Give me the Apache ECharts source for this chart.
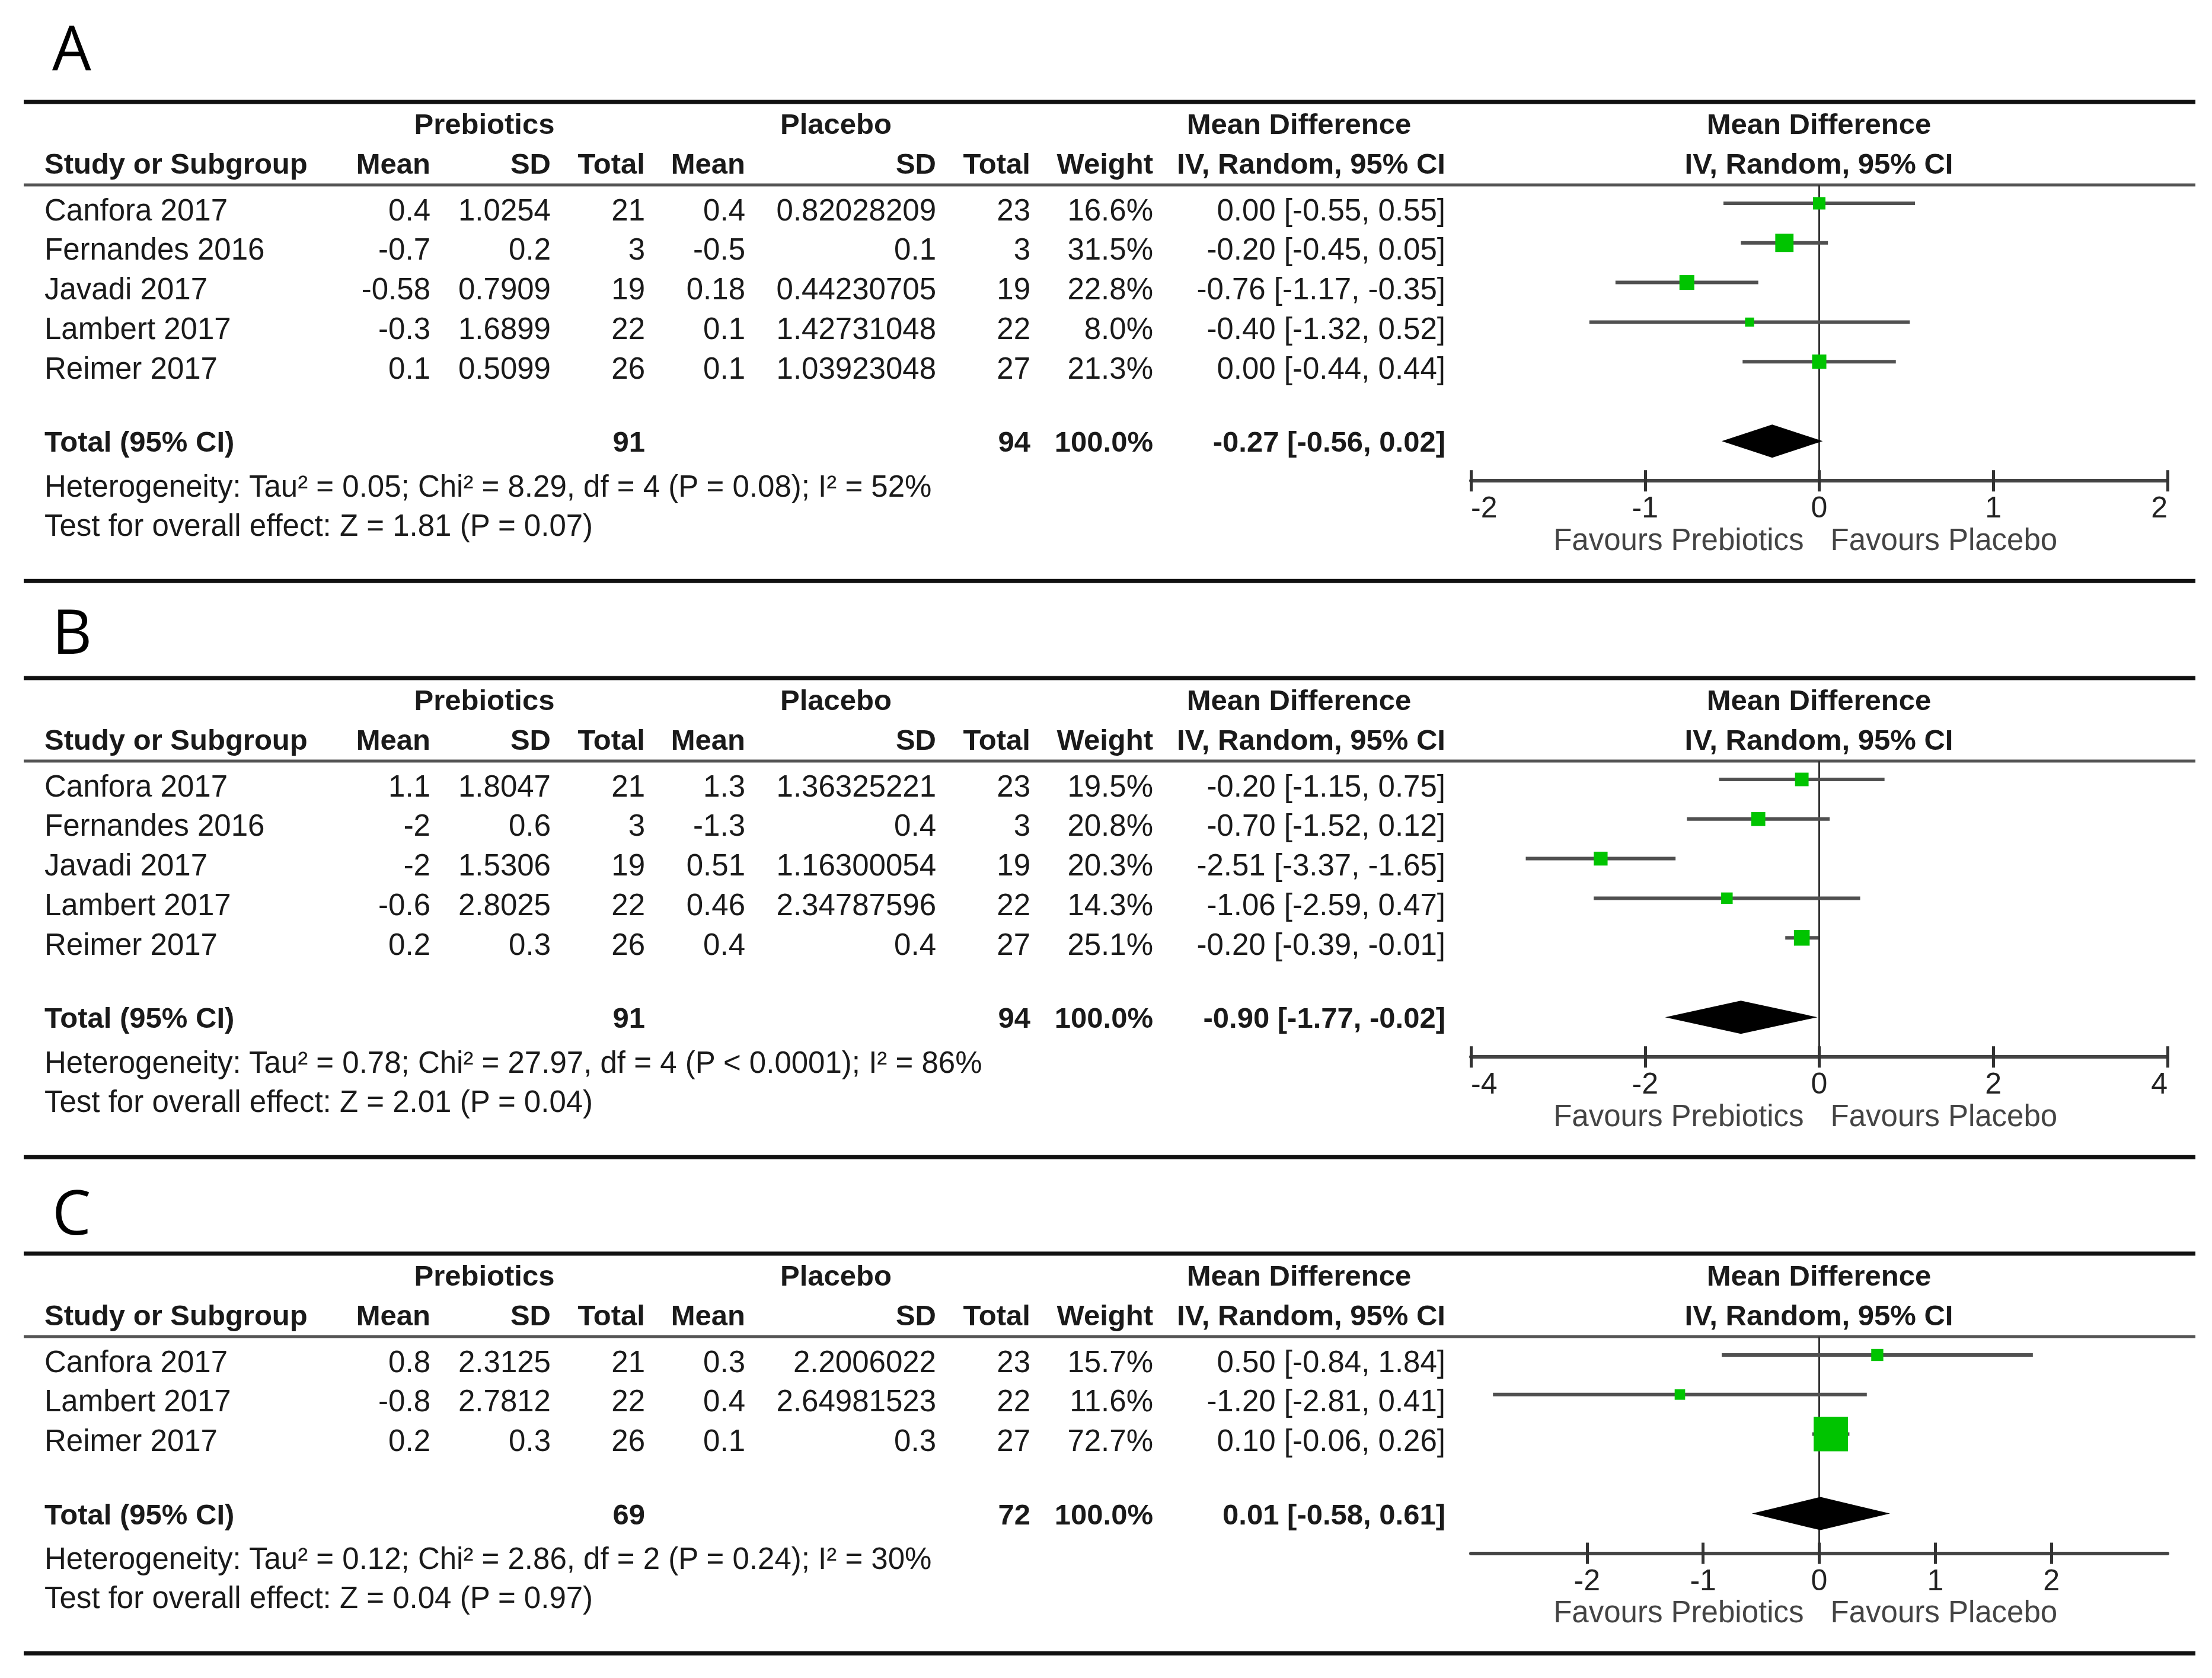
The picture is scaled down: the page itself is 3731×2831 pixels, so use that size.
<!DOCTYPE html>
<html>
<head>
	<meta charset="utf-8">
	<title>Forest plots</title>
	<script src="https://cdn.jsdelivr.net/npm/echarts@6/dist/echarts.min.js"></script>
	<style>
		* { margin: 0; padding: 0 }
		html, body { width: 100%; height: 100%; background: #fff; }
		#main { width: 3731px; height: 2831px; }
	</style>
</head>
<body>
<div id="main"></div>
<script>
	/*-------------------- data --------------------*/
	// A
	var studiesA = ['Canfora 2017', 'Fernandes 2016', 'Javadi 2017', 'Lambert 2017', 'Reimer 2017'];
	var prebMeanA = [0.4, -0.7, -0.58, -0.3, 0.1];
	var prebSdA = [1.0254, 0.2, 0.7909, 1.6899, 0.5099];
	var prebNA = [21, 3, 19, 22, 26];
	var placMeanA = [0.4, -0.5, 0.18, 0.1, 0.1];
	var placSdA = [0.82028209, 0.1, 0.44230705, 1.42731048, 1.03923048];
	var placNA = [23, 3, 19, 22, 27];
	var weightA = [16.6, 31.5, 22.8, 8.0, 21.3];
	var mdA = [0.00, -0.20, -0.76, -0.40, 0.00];
	var loA = [-0.55, -0.45, -1.17, -1.32, -0.44];
	var hiA = [0.55, 0.05, -0.35, 0.52, 0.44];
	var totalA = [91, 94, -0.27, -0.56, 0.02];   // n prebiotics, n placebo, md, lo, hi
	var hetA = 'Heterogeneity: Tau² = 0.05; Chi² = 8.29, df = 4 (P = 0.08); I² = 52%';
	var testA = 'Test for overall effect: Z = 1.81 (P = 0.07)';
	var ticksA = [-2, -1, 0, 1, 2];
	var rangeA = [-2, 2];

	// B
	var studiesB = ['Canfora 2017', 'Fernandes 2016', 'Javadi 2017', 'Lambert 2017', 'Reimer 2017'];
	var prebMeanB = [1.1, -2, -2, -0.6, 0.2];
	var prebSdB = [1.8047, 0.6, 1.5306, 2.8025, 0.3];
	var prebNB = [21, 3, 19, 22, 26];
	var placMeanB = [1.3, -1.3, 0.51, 0.46, 0.4];
	var placSdB = [1.36325221, 0.4, 1.16300054, 2.34787596, 0.4];
	var placNB = [23, 3, 19, 22, 27];
	var weightB = [19.5, 20.8, 20.3, 14.3, 25.1];
	var mdB = [-0.20, -0.70, -2.51, -1.06, -0.20];
	var loB = [-1.15, -1.52, -3.37, -2.59, -0.39];
	var hiB = [0.75, 0.12, -1.65, 0.47, -0.01];
	var totalB = [91, 94, -0.90, -1.77, -0.02];
	var hetB = 'Heterogeneity: Tau² = 0.78; Chi² = 27.97, df = 4 (P < 0.0001); I² = 86%';
	var testB = 'Test for overall effect: Z = 2.01 (P = 0.04)';
	var ticksB = [-4, -2, 0, 2, 4];
	var rangeB = [-4, 4];

	// C
	var studiesC = ['Canfora 2017', 'Lambert 2017', 'Reimer 2017'];
	var prebMeanC = [0.8, -0.8, 0.2];
	var prebSdC = [2.3125, 2.7812, 0.3];
	var prebNC = [21, 22, 26];
	var placMeanC = [0.3, 0.4, 0.1];
	var placSdC = [2.2006022, 2.64981523, 0.3];
	var placNC = [23, 22, 27];
	var weightC = [15.7, 11.6, 72.7];
	var mdC = [0.50, -1.20, 0.10];
	var loC = [-0.84, -2.81, -0.06];
	var hiC = [1.84, 0.41, 0.26];
	var totalC = [69, 72, 0.01, -0.58, 0.61];
	var hetC = 'Heterogeneity: Tau² = 0.12; Chi² = 2.86, df = 2 (P = 0.24); I² = 30%';
	var testC = 'Test for overall effect: Z = 0.04 (P = 0.97)';
	var ticksC = [-2, -1, 0, 1, 2];
	var rangeC = [-3, 3];

	var panels = [
		{ letter: 'A', top: 172, letterY: 78, studies: studiesA, prebMean: prebMeanA, prebSd: prebSdA, prebN: prebNA,
			placMean: placMeanA, placSd: placSdA, placN: placNA, weight: weightA, md: mdA, lo: loA, hi: hiA,
			total: totalA, het: hetA, test: testA, ticks: ticksA, range: rangeA, alignEnds: true },
		{ letter: 'B', top: 1144, letterY: 1062, studies: studiesB, prebMean: prebMeanB, prebSd: prebSdB, prebN: prebNB,
			placMean: placMeanB, placSd: placSdB, placN: placNB, weight: weightB, md: mdB, lo: loB, hi: hiB,
			total: totalB, het: hetB, test: testB, ticks: ticksB, range: rangeB, alignEnds: true },
		{ letter: 'C', top: 2115, letterY: 2042, studies: studiesC, prebMean: prebMeanC, prebSd: prebSdC, prebN: prebNC,
			placMean: placMeanC, placSd: placSdC, placN: placNC, weight: weightC, md: mdC, lo: loC, hi: hiC,
			total: totalC, het: hetC, test: testC, ticks: ticksC, range: rangeC, alignEnds: false }
	];

	/*-------------------- layout --------------------*/
	var FONT = 'Arial, Liberation Sans, sans-serif';
	var FS = 51, FSB = 49;
	var TXT = '#1a1a1a';
	var RULE_L = 40, RULE_R = 3703;
	var PITCH = 66.8;          // row height
	var PLOT_L = 2481, PLOT_W = 1175;
	var DIAMOND_H = 28;
	var GREEN = '#00c400';
	// column anchors
	var COL = {
		study: 75, prebMean: 726, prebSd: 929, prebN: 1088, placMean: 1257, placSd: 1579,
		placN: 1738, weight: 1945, ci: 2438, prebHead: 817, placHead: 1410, mdHead: 2191, plotHead: 3068
	};

	var chart = echarts.init(document.getElementById('main'), null, { renderer: 'svg' });

	function txt(s, x, y, align, bold, color, size) {
		return {
			type: 'text', x: x, y: y, silent: true,
			style: {
				text: s, fill: color || TXT, textAlign: align, textVerticalAlign: 'middle',
				font: (bold ? 'bold ' : '') + (size || (bold ? FSB : FS)) + 'px ' + FONT
			}
		};
	}
	function rule(y, w, c) {
		return { type: 'line', silent: true, shape: { x1: RULE_L, y1: y, x2: RULE_R, y2: y }, style: { stroke: c, lineWidth: w } };
	}
	function ci(md, lo, hi) {
		return md.toFixed(2) + ' [' + lo.toFixed(2) + ', ' + hi.toFixed(2) + ']';
	}

	// square side grows with the study weight
	function boxSize(w) {
		return 10 + 0.66 * w;
	}

	function renderStudy(params, api) {
		var y = api.value(3);
		var a = api.coord([api.value(1), y]);
		var b = api.coord([api.value(2), y]);
		var c = api.coord([api.value(0), y]);
		var s = boxSize(api.value(4));
		return {
			type: 'group',
			children: [
				{ type: 'line', shape: { x1: a[0], y1: a[1], x2: b[0], y2: b[1] }, style: { stroke: '#505050', lineWidth: 6 } },
				{ type: 'rect', shape: { x: c[0] - s / 2, y: c[1] - s / 2, width: s, height: s }, style: { fill: GREEN } }
			]
		};
	}
	function renderDiamond(params, api) {
		var y = api.value(3);
		var c = api.coord([api.value(0), y]);
		var l = api.coord([api.value(1), y]);
		var r = api.coord([api.value(2), y]);
		return {
			type: 'polygon',
			shape: { points: [[l[0], c[1]], [c[0], c[1] - DIAMOND_H], [r[0], c[1]], [c[0], c[1] + DIAMOND_H]] },
			style: { fill: '#000' }
		};
	}

	var graphics = [], grids = [], xAxes = [], yAxes = [], series = [];

	panels.forEach(function(p, k) {
		var T = p.top, n = p.studies.length;
		var rowY = function(i) { return T + 182 + PITCH * i; };
		var totalY = rowY(n - 1) + 124;
		var axisY = totalY + 66;
		var gridTop = T + 140;

		// panel letter and rules
		graphics.push({ type: 'text', x: 88, y: p.letterY, silent: true,
			style: { text: p.letter, fill: '#000', textAlign: 'left', textVerticalAlign: 'middle', font: '104px Open Sans, sans-serif' } });
		graphics.push(rule(T, 7, '#111'));
		graphics.push(rule(gridTop, 5, '#555'));
		graphics.push(rule(totalY + 235, 7, '#111'));

		// header
		var h1 = T + 37, h2 = T + 104;
		graphics.push(txt('Prebiotics', COL.prebHead, h1, 'center', true));
		graphics.push(txt('Placebo', COL.placHead, h1, 'center', true));
		graphics.push(txt('Mean Difference', COL.mdHead, h1, 'center', true));
		graphics.push(txt('Mean Difference', COL.plotHead, h1, 'center', true));
		graphics.push(txt('Study or Subgroup', COL.study, h2, 'left', true));
		graphics.push(txt('Mean', COL.prebMean, h2, 'right', true));
		graphics.push(txt('SD', COL.prebSd, h2, 'right', true));
		graphics.push(txt('Total', COL.prebN, h2, 'right', true));
		graphics.push(txt('Mean', COL.placMean, h2, 'right', true));
		graphics.push(txt('SD', COL.placSd, h2, 'right', true));
		graphics.push(txt('Total', COL.placN, h2, 'right', true));
		graphics.push(txt('Weight', COL.weight, h2, 'right', true));
		graphics.push(txt('IV, Random, 95% CI', COL.ci, h2, 'right', true));
		graphics.push(txt('IV, Random, 95% CI', COL.plotHead, h2, 'center', true));

		// study rows
		var rows = [];
		for (var i = 0; i < n; i++) {
			var y = rowY(i);
			graphics.push(txt(p.studies[i], COL.study, y, 'left'));
			graphics.push(txt(String(p.prebMean[i]), COL.prebMean, y, 'right'));
			graphics.push(txt(String(p.prebSd[i]), COL.prebSd, y, 'right'));
			graphics.push(txt(String(p.prebN[i]), COL.prebN, y, 'right'));
			graphics.push(txt(String(p.placMean[i]), COL.placMean, y, 'right'));
			graphics.push(txt(String(p.placSd[i]), COL.placSd, y, 'right'));
			graphics.push(txt(String(p.placN[i]), COL.placN, y, 'right'));
			graphics.push(txt(p.weight[i].toFixed(1) + '%', COL.weight, y, 'right'));
			graphics.push(txt(ci(p.md[i], p.lo[i], p.hi[i]), COL.ci, y, 'right'));
			rows.push([p.md[i], p.lo[i], p.hi[i], i, p.weight[i]]);
		}

		// total row
		graphics.push(txt('Total (95% CI)', COL.study, totalY, 'left', true));
		graphics.push(txt(String(p.total[0]), COL.prebN, totalY, 'right', true));
		graphics.push(txt(String(p.total[1]), COL.placN, totalY, 'right', true));
		graphics.push(txt('100.0%', COL.weight, totalY, 'right', true));
		graphics.push(txt(ci(p.total[2], p.total[3], p.total[4]), COL.ci, totalY, 'right', true));
		graphics.push(txt(p.het, COL.study, totalY + 75, 'left'));
		graphics.push(txt(p.test, COL.study, totalY + 141, 'left'));

		// favours labels either side of zero
		var zeroX = PLOT_L + (0 - p.range[0]) / (p.range[1] - p.range[0]) * PLOT_W;
		graphics.push(txt('Favours Prebiotics', zeroX - 26, axisY + 99, 'right', false, '#444'));
		graphics.push(txt('Favours Placebo', zeroX + 19, axisY + 99, 'left', false, '#444'));

		// forest plot coordinate system: y in row units, 0 = first study
		var rowTop = T + 171;
		var yMin = (gridTop - rowTop) / PITCH;
		var yMax = (axisY - rowTop) / PITCH;
		var totalRow = (totalY - 1 - rowTop) / PITCH;

		grids.push({ left: PLOT_L, width: PLOT_W, top: gridTop, height: axisY - gridTop, containLabel: false });
		var tickStyle = { color: '#333', width: 5 };
		xAxes.push({
			gridIndex: k, type: 'value', min: p.range[0], max: p.range[1], position: 'bottom',
			axisLine: { show: true, onZero: false, lineStyle: { color: '#444', width: 6 } },
			axisTick: { show: true, length: 18, customValues: p.ticks, lineStyle: tickStyle },
			axisLabel: {
				show: true, customValues: p.ticks, margin: 20, fontSize: 50, fontFamily: FONT, color: '#222',
				alignMinLabel: p.alignEnds ? 'left' : null, alignMaxLabel: p.alignEnds ? 'right' : null
			},
			splitLine: { show: false }
		});
		xAxes.push({
			gridIndex: k, type: 'value', min: p.range[0], max: p.range[1], position: 'bottom',
			axisLine: { show: false, onZero: false },
			axisTick: { show: true, inside: true, length: 18, customValues: p.ticks, lineStyle: tickStyle },
			axisLabel: { show: false },
			splitLine: { show: false }
		});
		yAxes.push({ gridIndex: k, type: 'value', inverse: true, min: yMin, max: yMax, show: false });

		series.push({
			type: 'custom', xAxisIndex: 2 * k, yAxisIndex: k, z: 3,
			renderItem: renderStudy, data: rows, encode: { x: [0, 1, 2], y: 3 }
		});
		series.push({
			type: 'custom', xAxisIndex: 2 * k, yAxisIndex: k, z: 3,
			renderItem: renderDiamond,
			data: [[p.total[2], p.total[3], p.total[4], totalRow]],
			encode: { x: [0, 1, 2], y: 3 },
			markLine: {
				silent: true, z: 1, symbol: ['none', 'none'], label: { show: false },
				lineStyle: { color: '#333', width: 3, type: 'solid' },
				data: [{ xAxis: 0 }]
			}
		});
	});

	chart.setOption({
		animation: false,
		backgroundColor: '#fff',
		grid: grids,
		xAxis: xAxes,
		yAxis: yAxes,
		series: series,
		graphic: { elements: graphics }
	});
</script>
</body>
</html>
